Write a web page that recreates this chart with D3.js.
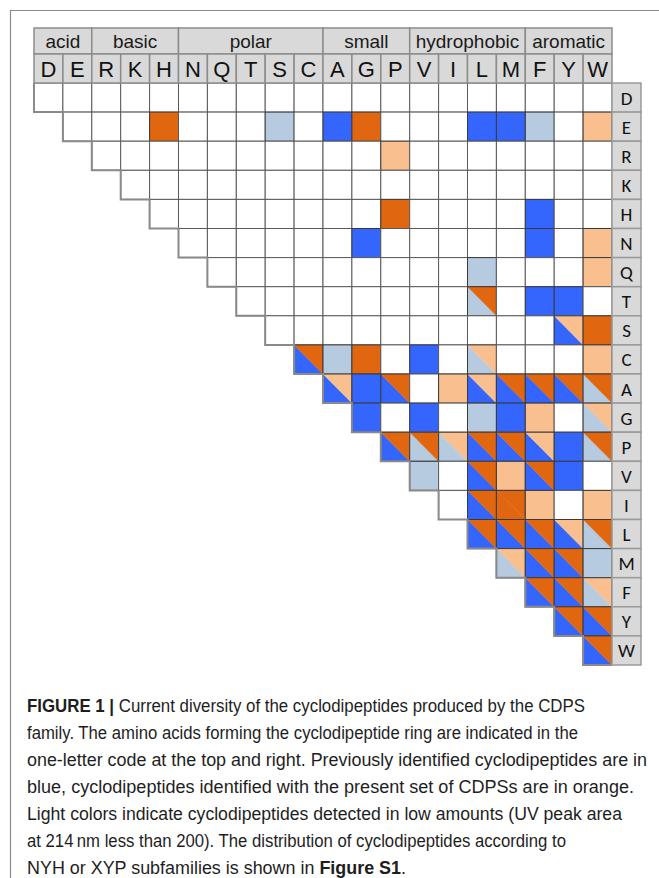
<!DOCTYPE html>
<html>
<head>
<meta charset="utf-8">
<script src="https://cdn.jsdelivr.net/npm/d3@7"></script>
<style>
  body { margin: 0; background: #fff; }
  svg { display: block; }
</style>
</head>
<body>
<svg id="chart" width="659" height="878"></svg>
<script>
// amino acids, in the order used for both axes
var aminoAcids = ["D","E","R","K","H","N","Q","T","S","C","A","G","P","V","I","L","M","F","Y","W"];

// property groups across the top
var groupNames = ["acid","basic","polar","small","hydrophobic","aromatic"];
var groupFirst = ["D","R","N","A","V","F"];
var groupLast  = ["E","H","C","P","M","W"];

// cells: [row, column, colour code]; "lowerLeft/upperRight" for split cells
// B = blue, O = orange, b = light blue, o = light orange
var cells = [
  ["E","H","O"],["E","S","b"],["E","A","B"],["E","G","O"],["E","L","B"],["E","M","B"],["E","F","b"],["E","W","o"],
  ["R","P","o"],
  ["H","P","O"],["H","F","B"],
  ["N","G","B"],["N","F","B"],["N","W","o"],
  ["Q","L","b"],["Q","W","o"],
  ["T","L","b/O"],["T","F","B"],["T","Y","B"],
  ["S","Y","B/o"],["S","W","O"],
  ["C","C","B/O"],["C","A","b"],["C","G","O"],["C","V","B"],["C","L","b/o"],["C","W","o"],
  ["A","A","B/o"],["A","G","B"],["A","P","B/O"],["A","I","o"],["A","L","B/o"],["A","M","B/O"],["A","F","B/O"],["A","Y","B/O"],["A","W","b/O"],
  ["G","G","B"],["G","V","B"],["G","L","b"],["G","M","B"],["G","F","o"],["G","W","b/o"],
  ["P","P","B/O"],["P","V","b/O"],["P","I","b/o"],["P","L","B/O"],["P","M","B/O"],["P","F","B/o"],["P","Y","B"],["P","W","b/O"],
  ["V","V","b"],["V","L","B/O"],["V","M","o"],["V","F","B/O"],["V","Y","B"],
  ["I","L","B/O"],["I","M","O/O"],["I","F","o"],["I","W","o"],
  ["L","L","B/O"],["L","M","B/O"],["L","F","B/O"],["L","Y","B/o"],["L","W","b/O"],
  ["M","M","b/o"],["M","F","B/O"],["M","Y","B/O"],["M","W","b"],
  ["F","F","B/O"],["F","Y","B/O"],["F","W","b/o"],
  ["Y","Y","B/O"],["Y","W","B/O"],
  ["W","W","B/O"]
];

// caption lines; ** marks bold runs
var captionLines = [
  "**FIGURE 1 |** Current diversity of the cyclodipeptides produced by the CDPS",
  "family. The amino acids forming the cyclodipeptide ring are indicated in the",
  "one-letter code at the top and right. Previously identified cyclodipeptides are in",
  "blue, cyclodipeptides identified with the present set of CDPSs are in orange.",
  "Light colors indicate cyclodipeptides detected in low amounts (UV peak area",
  "at 214\u2009nm less than 200). The distribution of cyclodipeptides according to",
  "NYH or XYP subfamilies is shown in **Figure S1**."
];
var captionWidths = [558, 551, 620, 607, 595, 539, 379];

var palette = {B: "#3466fe", O: "#e0660f", b: "#b6cbe0", o: "#f9bf8f"};

var svg = d3.select("#chart");

// frame
svg.append("path")
  .attr("d", "M10.5,878 V10.5 H659")
  .attr("fill", "none")
  .attr("stroke", "#8a8a8a")
  .attr("stroke-width", 1.2);

var x = d3.scaleBand().domain(aminoAcids).range([34, 612]);
var y = d3.scaleBand().domain(aminoAcids).range([83, 665]);
var bw = x.bandwidth(), bh = y.bandwidth();

// grid of cells (upper triangle incl. diagonal)
var gridData = [];
aminoAcids.forEach(function (r, i) {
  aminoAcids.forEach(function (c, j) {
    if (j >= i) gridData.push({row: r, col: c});
  });
});

var cellLookup = {};
cells.forEach(function (d) { cellLookup[d[0] + "-" + d[1]] = d[2]; });

var g = svg.append("g");
var cellG = g.selectAll(".cell")
  .data(gridData)
  .enter()
  .append("g")
  .attr("class", "cell")
  .attr("transform", function (d) { return "translate(" + x(d.col) + "," + y(d.row) + ")"; });

cellG.each(function (d) {
  var code = cellLookup[d.row + "-" + d.col];
  var sel = d3.select(this);
  if (!code) {
    sel.append("rect").attr("width", bw).attr("height", bh).attr("fill", "#fff");
  } else if (code.indexOf("/") < 0) {
    sel.append("rect").attr("width", bw).attr("height", bh).attr("fill", palette[code]);
  } else {
    var parts = code.split("/");
    // lower-left triangle
    sel.append("path")
      .attr("d", "M0,0 L" + bw + "," + bh + " L0," + bh + "Z")
      .attr("fill", palette[parts[0]])
      .attr("stroke", palette[parts[0]]).attr("stroke-width", 0.4);
    // upper-right triangle
    sel.append("path")
      .attr("d", "M0,0 L" + bw + ",0 L" + bw + "," + bh + "Z")
      .attr("fill", palette[parts[1]])
      .attr("stroke", palette[parts[1]]).attr("stroke-width", 0.4);
  }
  sel.append("rect")
    .attr("width", bw).attr("height", bh)
    .attr("fill", "none")
    .attr("stroke", code ? "#3a3a3a" : "#5a5a5a")
    .attr("stroke-width", 1);
});

// staircase border along the diagonal
var stair = d3.path();
aminoAcids.forEach(function (a, i) {
  if (i === 0) stair.moveTo(x(a), y(a));
  else stair.lineTo(x(a), y(a));
  stair.lineTo(x(a), y(a) + bh);
  stair.lineTo(x(a) + bw, y(a) + bh);
});
g.append("path")
  .attr("d", stair.toString())
  .attr("fill", "none")
  .attr("stroke", "#8a8a8a")
  .attr("stroke-width", 2);

// header: group row
var groupY = 28, groupH = 26, letterY = 54, letterH = 29;
var hdr = svg.append("g");
groupNames.forEach(function (name, i) {
  var x0 = x(groupFirst[i]), x1 = x(groupLast[i]) + bw;
  hdr.append("rect")
    .attr("x", x0).attr("y", groupY).attr("width", x1 - x0).attr("height", groupH)
    .attr("fill", "#d9d9d9").attr("stroke", "#8c8c8c").attr("stroke-width", 1.5);
  hdr.append("text")
    .attr("x", (x0 + x1) / 2).attr("y", groupY + 19.5)
    .attr("text-anchor", "middle")
    .attr("font-family", "Liberation Sans, Arial, sans-serif")
    .attr("font-size", 19)
    .attr("fill", "#1a1a1a")
    .text(name);
});

// header: letter row
hdr.selectAll(".colLabel")
  .data(aminoAcids)
  .enter()
  .append("g")
  .attr("class", "colLabel")
  .each(function (a) {
    var s = d3.select(this);
    s.append("rect")
      .attr("x", x(a)).attr("y", letterY).attr("width", bw).attr("height", letterH)
      .attr("fill", "#d9d9d9").attr("stroke", "#8c8c8c").attr("stroke-width", 1.5);
    s.append("text")
      .attr("x", x(a) + bw / 2).attr("y", letterY + 23)
      .attr("text-anchor", "middle")
      .attr("font-family", "Liberation Sans, Arial, sans-serif")
      .attr("font-size", 22)
      .attr("fill", "#111")
      .text(a);
  });

// right-hand row labels
var rx = 612, rw = 29;
hdr.selectAll(".rowLabel")
  .data(aminoAcids)
  .enter()
  .append("g")
  .attr("class", "rowLabel")
  .each(function (a) {
    var s = d3.select(this);
    s.append("rect")
      .attr("x", rx).attr("y", y(a)).attr("width", rw).attr("height", bh)
      .attr("fill", "#d9d9d9").attr("stroke", "#9a9a9a").attr("stroke-width", 1.5);
    s.append("text")
      .attr("x", rx + rw / 2).attr("y", y(a) + bh / 2 + 7)
      .attr("text-anchor", "middle")
      .attr("font-family", "Carlito, DejaVu Sans, sans-serif")
      .attr("font-size", 19)
      .attr("fill", "#111")
      .text(a);
  });

// caption
var cap = svg.append("g")
  .attr("font-family", "Liberation Sans Narrow, Liberation Sans, Arial, sans-serif")
  .attr("font-size", 17.5)
  .attr("fill", "#1e1e1e");
captionLines.forEach(function (line, i) {
  var t = cap.append("text")
    .attr("x", 27)
    .attr("y", 712 + i * 27)
    .attr("textLength", captionWidths[i])
    .attr("lengthAdjust", "spacingAndGlyphs");
  line.split("**").forEach(function (part, k) {
    if (!part) return;
    t.append("tspan")
      .attr("font-weight", k % 2 === 1 ? "bold" : "normal")
      .text(part);
  });
});
</script>
</body>
</html>
